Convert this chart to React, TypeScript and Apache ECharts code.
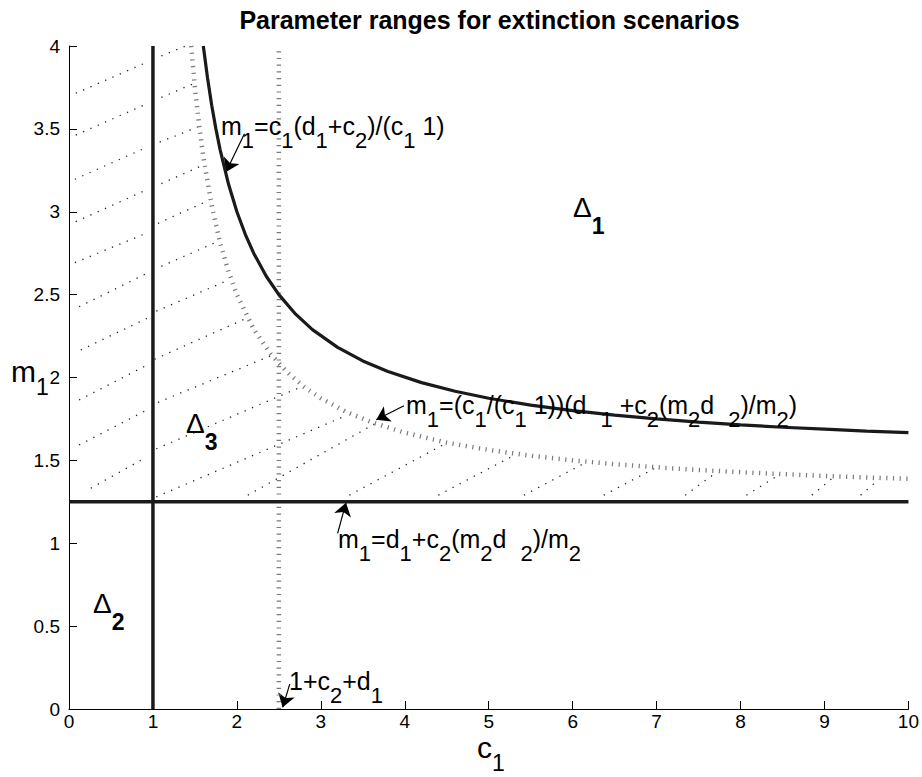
import React, { useEffect, useRef } from 'react';
import * as echarts from 'echarts';

const TITLE = 'Parameter ranges for extinction scenarios';

// solid boundary m1 = c1(d1+c2)/(c1-1)
const solidCurveC = [1.6, 1.65, 1.7, 1.75, 1.8, 1.9, 2.0, 2.1, 2.2, 2.35, 2.5, 2.7, 2.9, 3.2, 3.5, 3.8, 4.2, 4.6, 5, 5.5, 6, 6.5, 7, 7.5, 8, 8.5, 9, 9.5, 10];
const solidCurveM = [4.0, 3.808, 3.643, 3.5, 3.375, 3.167, 3.0, 2.864, 2.75, 2.611, 2.5, 2.382, 2.289, 2.182, 2.1, 2.036, 1.969, 1.917, 1.875, 1.833, 1.8, 1.773, 1.75, 1.731, 1.714, 1.7, 1.688, 1.676, 1.667];

// dotted boundary m1 = (c1/(c1-1))(d1+c2(m2-d2)/m2)
const dottedCurveC = [1.455, 1.5, 1.55, 1.6, 1.7, 1.8, 1.9, 2.0, 2.2, 2.4, 2.6, 2.8, 3.0, 3.3, 3.6, 4.0, 4.5, 5.0, 5.5, 6.0, 6.5, 7.0, 7.5, 8.0, 8.5, 9.0, 9.5, 10];
const dottedCurveM = [4.0, 3.75, 3.523, 3.333, 3.036, 2.813, 2.639, 2.5, 2.292, 2.143, 2.031, 1.944, 1.875, 1.793, 1.731, 1.667, 1.607, 1.563, 1.528, 1.5, 1.477, 1.458, 1.442, 1.429, 1.417, 1.406, 1.397, 1.389];

// straight boundaries
const verticalSolidC = [1, 1];
const verticalSolidM = [0, 4];
const horizontalSolidC = [0, 10];
const horizontalSolidM = [1.25, 1.25];
const verticalDottedC = [2.5, 2.5];
const verticalDottedM = [0, 4];

// hatching segments [c start, m start, c end, m end]
const hatchLeft = [
  [0.08, 3.715, 0.92, 3.9],
  [0.08, 3.462, 0.92, 3.65],
  [0.07, 3.196, 0.9, 3.383],
  [0.08, 2.94, 0.92, 3.131],
  [0.07, 2.693, 0.92, 2.87],
  [0.12, 2.427, 0.93, 2.629],
  [0.14, 2.166, 0.93, 2.357],
  [0.12, 1.864, 0.93, 2.075],
  [0.12, 1.593, 0.93, 1.804],
  [0.26, 1.332, 0.9, 1.513],
];
const hatchMiddle = [
  [1.1, 3.94, 1.39, 4.0],
  [1.1, 3.69, 1.47, 3.77],
  [1.08, 3.42, 1.53, 3.51],
  [1.1, 3.17, 1.59, 3.28],
  [1.06, 2.93, 1.67, 3.07],
  [1.1, 2.67, 1.77, 2.82],
  [1.04, 2.4, 1.91, 2.59],
  [1.02, 2.11, 2.08, 2.35],
  [1.06, 1.85, 2.4, 2.13],
  [1.04, 1.57, 2.75, 1.94],
  [1.04, 1.28, 3.3, 1.77],
];
const hatchRight = [
  [2.13, 1.29, 3.64, 1.72],
  [3.34, 1.29, 4.48, 1.6],
  [4.4, 1.29, 5.3, 1.53],
  [5.42, 1.29, 6.13, 1.48],
  [6.37, 1.29, 6.97, 1.45],
  [7.34, 1.29, 7.72, 1.43],
  [8.07, 1.29, 8.45, 1.41],
  [8.85, 1.29, 9.1, 1.395],
  [9.43, 1.29, 9.65, 1.385],
];

// annotation arrows [tail c, tail m, tip c, tip m]
const arrows = [
  [2.09, 3.47, 1.87, 3.24],
  [3.99, 1.83, 3.66, 1.745],
  [3.2, 1.06, 3.3, 1.245],
  [2.63, 0.15, 2.545, 0.01],
];

const FONT = "'Liberation Sans', Arial, Helvetica, sans-serif";

const pairs = (cs: number[], ms: number[]) => cs.map((c, i) => [c, ms[i]]);
const segs = (rows: number[][]) => rows.map((r) => ({ coords: [[r[0], r[1]], [r[2], r[3]]] }));

const labelRich = {
  m: { fontSize: 25, lineHeight: 25, verticalAlign: 'top', fontFamily: FONT, fill: '#000' },
  s: { fontSize: 22, lineHeight: 22, verticalAlign: 'top', padding: [16, 0, 0, 0], fontFamily: FONT, fill: '#000' },
  g: { fontSize: 22, lineHeight: 22, verticalAlign: 'top', padding: [16, 0, 0, 14], fontFamily: FONT, fill: '#000' },
};
const deltaRich = {
  D: { fontSize: 28, lineHeight: 28, verticalAlign: 'top', fontFamily: FONT, fill: '#000' },
  b: { fontSize: 23, lineHeight: 23, verticalAlign: 'top', padding: [21, 0, 0, 0], fontWeight: 'bold', fontFamily: FONT, fill: '#000' },
};
const axisRich = {
  A: { fontSize: 30, lineHeight: 30, verticalAlign: 'top', fontFamily: FONT, fill: '#000' },
  S: { fontSize: 23, lineHeight: 23, verticalAlign: 'top', padding: [19, 0, 0, 0], fontFamily: FONT, fill: '#000' },
};

const richText = (x: number, y: number, text: string, rich: any) => ({
  type: 'text',
  x,
  y,
  z: 100,
  style: { text, rich, verticalAlign: 'top', align: 'left', fill: '#000' },
});

export default function App() {
  const ref = useRef<HTMLDivElement>(null);
  useEffect(() => {
    const chart = echarts.init(ref.current!, null, { renderer: 'svg' });
    const solidStyle = { color: '#1a1a1a', width: 3.5 };
    const dottedStyle = { color: '#7a7a7a', width: 4.5, type: [1.2, 5.5] };
    const lineBase = { type: 'line', showSymbol: false, symbol: 'none', silent: true, animation: false };
    chart.setOption({
      animation: false,
      backgroundColor: '#fff',
      grid: { left: 69, right: 12, top: 46, bottom: 68, containLabel: false },
      xAxis: {
        type: 'value', min: 0, max: 10, interval: 1,
        axisLine: { lineStyle: { color: '#000', width: 1 } },
        axisTick: { inside: true, length: 8, lineStyle: { color: '#000' } },
        axisLabel: { color: '#000', fontSize: 19, fontFamily: FONT, margin: 3 },
        splitLine: { show: false },
      },
      yAxis: {
        type: 'value', min: 0, max: 4, interval: 0.5,
        axisLine: { show: true, lineStyle: { color: '#000', width: 1 } },
        axisTick: { show: true, inside: true, length: 8, lineStyle: { color: '#000' } },
        axisLabel: { color: '#000', fontSize: 19, fontFamily: FONT, margin: 9 },
        splitLine: { show: false },
      },
      series: [
        {
          type: 'lines', coordinateSystem: 'cartesian2d', silent: true,
          data: segs([...hatchLeft, ...hatchMiddle, ...hatchRight]),
          lineStyle: { color: '#222', width: 1.3, type: [1.3, 6.7], opacity: 1 },
          symbol: 'none',
        },
        { ...lineBase, data: pairs(verticalDottedC, verticalDottedM), lineStyle: dottedStyle },
        { ...lineBase, data: pairs(dottedCurveC, dottedCurveM), lineStyle: dottedStyle },
        { ...lineBase, data: pairs(verticalSolidC, verticalSolidM), lineStyle: solidStyle },
        { ...lineBase, data: pairs(horizontalSolidC, horizontalSolidM), lineStyle: solidStyle },
        { ...lineBase, data: pairs(solidCurveC, solidCurveM), lineStyle: { color: '#1a1a1a', width: 3.2 } },
        {
          type: 'lines', coordinateSystem: 'cartesian2d', silent: true,
          data: segs(arrows),
          symbol: ['none', 'arrow'],
          symbolSize: 13,
          lineStyle: { color: '#000', width: 1.2, opacity: 1 },
          itemStyle: { color: '#000' },
        },
      ],
      graphic: [
        {
          type: 'text', x: 489.5, y: 7, z: 100,
          style: { text: TITLE, fontSize: 25, lineHeight: 25, fontWeight: 'bold', fontFamily: FONT, fill: '#000', align: 'center', verticalAlign: 'top' },
        },
        richText(221, 113, '{m|m}{s|1}{m|=c}{s|1}{m|(d}{s|1}{m|+c}{s|2}{m|)/(c}{s|1}{m| 1)}', labelRich),
        richText(406, 392, '{m|m}{s|1}{m|=(c}{s|1}{m|/(c}{s|1}{m| 1))(d}{g|1}{m| +c}{s|2}{m|(m}{s|2}{m|d}{g|2}{m|)/m}{s|2}{m|)}', labelRich),
        richText(338, 526, '{m|m}{s|1}{m|=d}{s|1}{m|+c}{s|2}{m|(m}{s|2}{m|d}{g|2}{m|)/m}{s|2}', labelRich),
        richText(289, 668, '{m|1+c}{s|2}{m|+d}{s|1}', labelRich),
        richText(573, 193, '{D|Δ}{b|1}', deltaRich),
        richText(186, 409, '{D|Δ}{b|3}', deltaRich),
        richText(93, 589, '{D|Δ}{b|2}', deltaRich),
        richText(11, 356, '{A|m}{S|1}', axisRich),
        richText(477, 732, '{A|c}{S|1}', axisRich),
      ],
    });
    return () => chart.dispose();
  }, []);
  return <div ref={ref} style={{ position: 'fixed', left: 0, top: 0, width: 922, height: 777, background: '#fff' }} />;
}
